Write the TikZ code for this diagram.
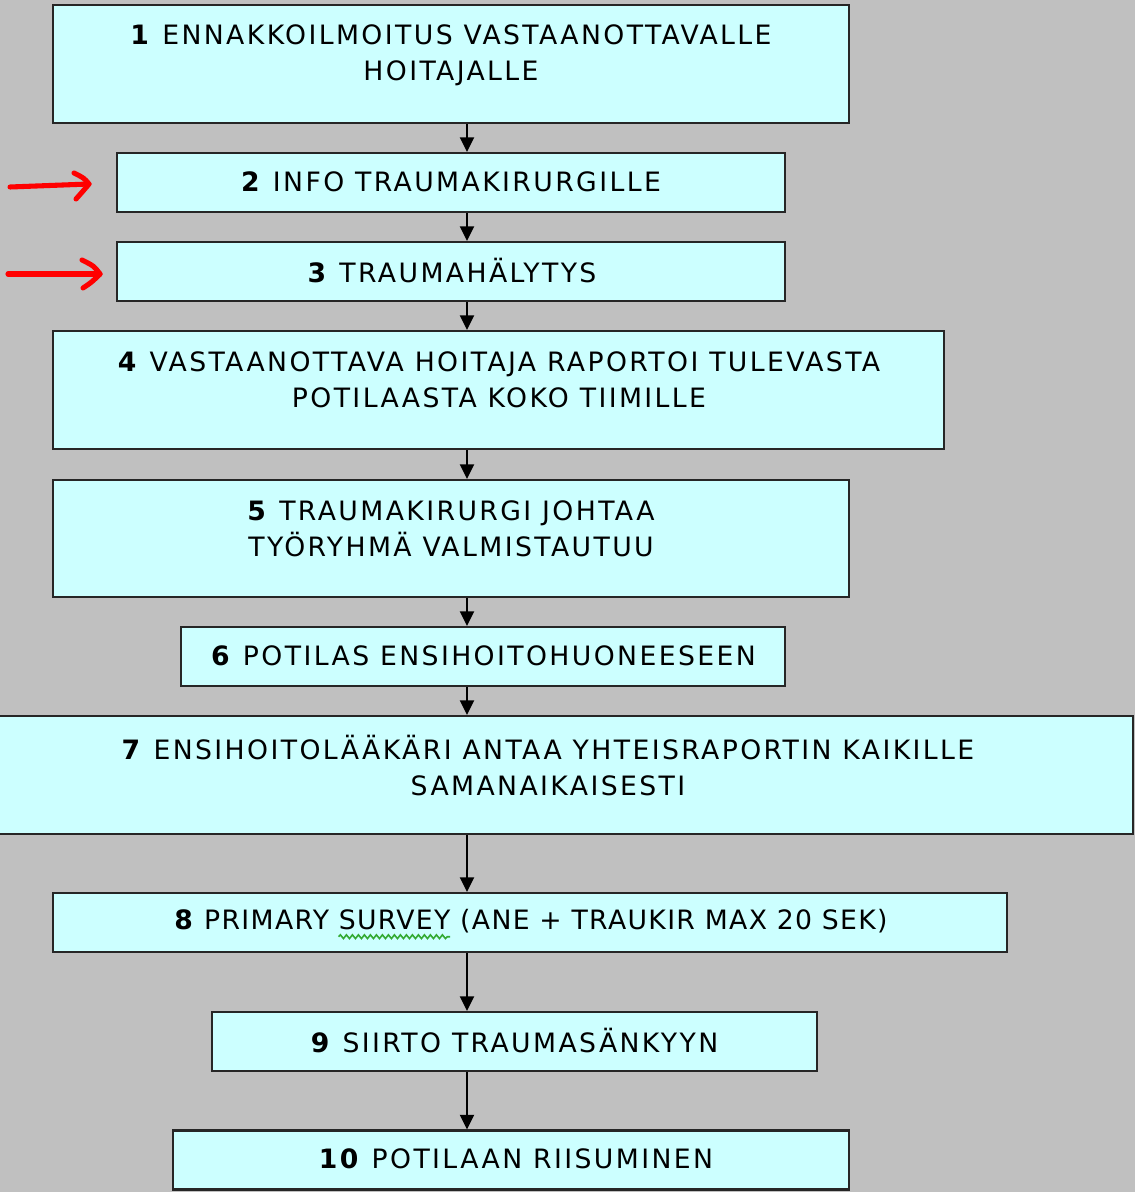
\documentclass[tikz,border=0pt]{standalone}
\usepackage{fontspec}
\setmainfont[LetterSpace=9]{DejaVu Sans}
\usetikzlibrary{arrows.meta,calc,decorations.pathmorphing}
\definecolor{bg}{HTML}{C0C0C0}
\definecolor{boxfill}{HTML}{CCFFFF}
\definecolor{wavegreen}{HTML}{33AA33}
\newcommand\boxfont{\fontsize{20}{27}\selectfont}
\newcommand\tightfont{\fontsize{20}{27}\selectfont\addfontfeature{LetterSpace=5}}
\newlength\wavestart
\newlength\wavelen
\settowidth{\wavestart}{\tightfont\textbf{8} PRIMARY\ }
\settowidth{\wavelen}{\tightfont SURVEY}
\begin{document}
\begin{tikzpicture}[x=0.75pt,y=-0.75pt,
  box/.style={draw=black!85,line width=1.6pt,fill=boxfill,rectangle,inner sep=0pt},
  txt/.style={align=center,inner sep=0pt,font=\boxfont,text=black},
  conn/.style={line width=1.5pt,draw=black,-{Triangle[length=11pt,width=10.5pt]}},
  redarrow/.style={draw=red,line width=3.8pt,line cap=round,line join=round},
  wave/.style={draw=wavegreen,line width=1.2pt,decorate,decoration={snake,amplitude=1.4pt,segment length=4.5pt}}]
\fill[bg] (0,0) rectangle (1135,1192);
\useasboundingbox (0,0) rectangle (1135,1192);
\coordinate (ax) at (467,0);
% boxes
\node[box,minimum width=796*0.75pt,minimum height=118*0.75pt] (b1) at (451,64) {};
\node[box,minimum width=668*0.75pt,minimum height=59*0.75pt] (b2) at (451,182.5) {};
\node[box,minimum width=668*0.75pt,minimum height=59*0.75pt] (b3) at (451,271.5) {};
\node[box,minimum width=891*0.75pt,minimum height=118*0.75pt] (b4) at (498.5,390) {};
\node[box,minimum width=796*0.75pt,minimum height=117*0.75pt] (b5) at (451,538.5) {};
\node[box,minimum width=604*0.75pt,minimum height=59*0.75pt] (b6) at (483,656.5) {};
\node[box,minimum width=1170*0.75pt,minimum height=118*0.75pt] (b7) at (548,775) {};
\node[box,minimum width=954*0.75pt,minimum height=59*0.75pt] (b8) at (530,922.5) {};
\node[box,minimum width=605*0.75pt,minimum height=59*0.75pt] (b9) at (514.5,1041.5) {};
\node[box,minimum width=676*0.75pt,minimum height=59*0.75pt] (b10) at (511,1160) {};
% texts
\node[txt] (t1) at (451,55) {\textbf{1} ENNAKKOILMOITUS VASTAANOTTAVALLE\\HOITAJALLE};
\node[txt] (t2) at (451,182) {\textbf{2} INFO TRAUMAKIRURGILLE};
\node[txt] (t3) at (452,271) {\textbf{3} TRAUMAHÄLYTYS};
\node[txt] (t4) at (499,380) {\textbf{4} VASTAANOTTAVA HOITAJA RAPORTOI TULEVASTA\\POTILAASTA KOKO TIIMILLE};
\node[txt] (t5) at (451,528.5) {\textbf{5} TRAUMAKIRURGI JOHTAA\\TYÖRYHMÄ VALMISTAUTUU};
\node[txt] (t6) at (483.5,656) {\textbf{6} POTILAS ENSIHOITOHUONEESEEN};
\node[txt] (t7) at (548,765.5) {\textbf{7} ENSIHOITOLÄÄKÄRI ANTAA YHTEISRAPORTIN KAIKILLE\\SAMANAIKAISESTI};
\node[txt,font=\tightfont] (t8) at (531,921) {\textbf{8} PRIMARY SURVEY (ANE + TRAUKIR MAX 20 SEK)};
\node[txt] (t9) at (514.5,1041) {\textbf{9} SIIRTO TRAUMASÄNKYYN};
\node[txt] (t10) at (516,1159) {\textbf{10} POTILAAN RIISUMINEN};
% spell-check wave under SURVEY
\coordinate (w1) at ($(t8.base west)+(\wavestart,-5.5pt)$);
\coordinate (w2) at ($(w1)+(\wavelen,0pt)$);
\draw[wave] (w1) -- (w2);
% connectors
\draw[conn] (b1.south -| ax) -- (b2.north -| ax);
\draw[conn] (b2.south -| ax) -- (b3.north -| ax);
\draw[conn] (b3.south -| ax) -- (b4.north -| ax);
\draw[conn] (b4.south -| ax) -- (b5.north -| ax);
\draw[conn] (b5.south -| ax) -- (b6.north -| ax);
\draw[conn] (b6.south -| ax) -- (b7.north -| ax);
\draw[conn] (b7.south -| ax) -- (b8.north -| ax);
\draw[conn] (b8.south -| ax) -- (b9.north -| ax);
\draw[conn] (b9.south -| ax) -- (b10.north -| ax);
% red hand-drawn arrows
\coordinate (r1s) at (10,187);
\coordinate (r1t) at (89,184);
\coordinate (r2s) at (8,274);
\coordinate (r2t) at (100,274);
\draw[redarrow] (r1s) -- (r1t);
\draw[redarrow] (74,173) .. controls (84,178) .. (r1t) .. controls (84,190) .. (76,199);
\draw[redarrow] (r2s) -- (r2t);
\draw[redarrow] (82,260) .. controls (94,266) .. (r2t) .. controls (92,282) .. (83,288);
\end{tikzpicture}
\end{document}
